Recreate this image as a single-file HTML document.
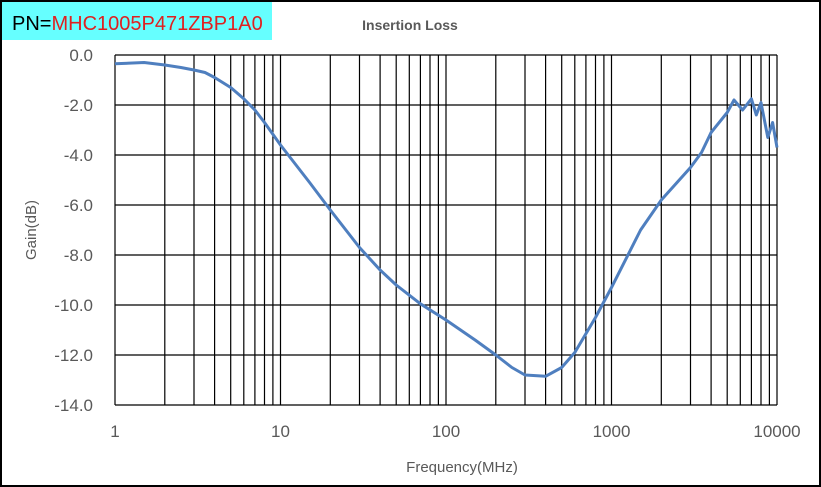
<!DOCTYPE html>
<html><head><meta charset="utf-8"><style>
body{margin:0;background:#fff}
svg{display:block;font-family:"Liberation Sans",sans-serif}
</style></head><body>
<svg id="s" width="821" height="487" viewBox="0 0 821 487">
<rect x="1" y="1" width="819" height="485" fill="#fff" stroke="#000" stroke-width="2"/>
<rect x="2" y="2" width="270" height="38" fill="#66ffff"/>
<text x="12" y="30" font-size="20" fill="#000">PN=<tspan fill="#e02020">MHC1005P471ZBP1A0</tspan></text>
<text x="410" y="30" font-size="14" font-weight="bold" fill="#595959" text-anchor="middle">Insertion Loss</text>
<g id="grid" stroke="#000" stroke-width="1.2"></g>
<g id="lab" font-size="17" fill="#595959"></g>
<text x="462" y="472" font-size="15" fill="#595959" text-anchor="middle">Frequency(MHz)</text>
<text transform="translate(36,230) rotate(-90)" font-size="15" fill="#595959" text-anchor="middle">Gain(dB)</text>
<path id="c" fill="none" stroke="#4f7fbf" stroke-width="3" stroke-linejoin="round"/>
</svg>
<script>
var X=f=>115+165.5*Math.log10(f),Y=d=>55+25*(-d);
var g=document.getElementById('grid'),l=document.getElementById('lab'),h='',t='';
for(var e=0;e<4;e++)for(var k=1;k<10;k++){var x=X(k*Math.pow(10,e)).toFixed(1);h+='<line x1="'+x+'" y1="55" x2="'+x+'" y2="405"/>';}
h+='<line x1="777" y1="55" x2="777" y2="405"/>';
for(var i=0;i<=7;i++){var y=55+50*i;h+='<line x1="115" y1="'+y+'" x2="777" y2="'+y+'"/>';t+='<text x="93" y="'+(y+6)+'" text-anchor="end">'+(i==0?'0.0':(-2*i).toFixed(1))+'</text>';}
[1,10,100,1000,10000].forEach(f=>{t+='<text x="'+X(f)+'" y="437" text-anchor="middle">'+f+'</text>'});
g.innerHTML=h;l.innerHTML=t;
var p=[[1,-.35],[1.5,-.3],[2,-.4],[2.5,-.5],[3,-.6],[3.5,-.7],[4,-.9],[5,-1.3],[6,-1.75],[7,-2.2],[8,-2.7],[10,-3.6],[15,-5.1],[20,-6.2],[30,-7.7],[40,-8.6],[50,-9.2],[70,-9.95],[100,-10.6],[150,-11.4],[200,-12],[250,-12.5],[300,-12.8],[400,-12.85],[500,-12.5],[600,-11.9],[800,-10.5],[1000,-9.3],[1500,-7],[2000,-5.8],[3000,-4.5],[3500,-3.9],[4000,-3.1],[5000,-2.3],[5500,-1.8],[6200,-2.2],[7000,-1.75],[7500,-2.4],[8000,-1.9],[8800,-3.3],[9400,-2.7],[10000,-3.7]];
document.getElementById('c').setAttribute('d','M'+p.map(q=>X(q[0]).toFixed(1)+','+Y(q[1]).toFixed(1)).join(' L'));
</script>
</body></html>
